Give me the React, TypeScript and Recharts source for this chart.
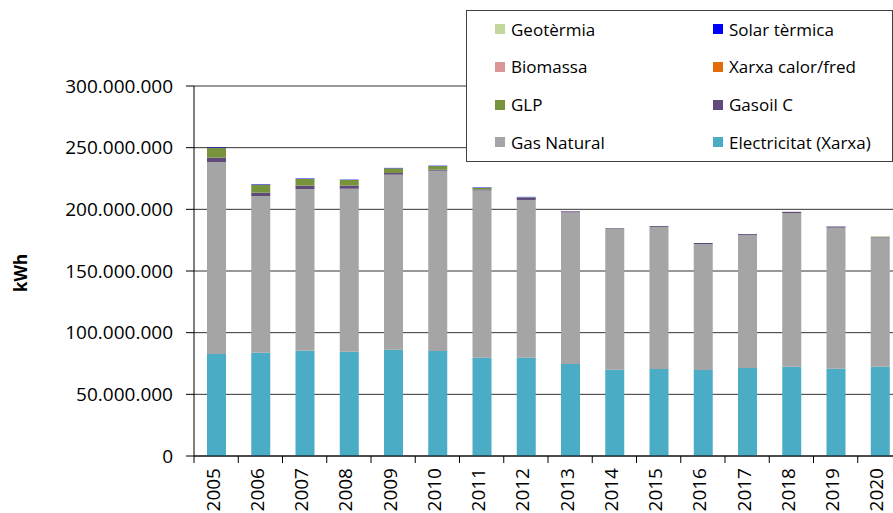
import React from "react";
import { BarChart, Bar, XAxis, YAxis, CartesianGrid } from "recharts";

// values in millions of kWh
const years = ["2005", "2006", "2007", "2008", "2009", "2010", "2011", "2012", "2013", "2014", "2015", "2016", "2017", "2018", "2019", "2020"];
const electricitat = [82.7, 83.8, 85.4, 84.6, 86.2, 85.1, 79.7, 79.7, 74.6, 70.0, 70.5, 69.7, 71.4, 72.4, 70.8, 72.4];
const gasNatural = [155.7, 127.0, 131.1, 132.1, 141.9, 146.2, 135.7, 127.9, 123.0, 114.3, 115.2, 102.2, 107.6, 124.6, 114.4, 104.9];
const gasoilC = [3.5, 2.7, 2.7, 2.5, 1.4, 0.8, 0.8, 1.8, 0.8, 0.5, 0.7, 0.8, 0.9, 1.0, 0.9, 0.4];
const glp = [7.8, 6.5, 5.4, 4.6, 3.8, 3.0, 1.4, 0.4, 0, 0, 0, 0, 0, 0, 0, 0];
const xarxaCalorFred = [0, 0, 0, 0, 0, 0, 0, 0, 0, 0, 0, 0, 0, 0, 0, 0];
const biomassa = [0, 0, 0, 0, 0, 0, 0, 0, 0, 0, 0, 0, 0, 0, 0, 0];
const solarTermica = [0.4, 0.4, 0.4, 0.3, 0.3, 0.3, 0.3, 0.3, 0, 0, 0, 0, 0, 0, 0, 0];
const geotermia = [0, 0, 0, 0, 0, 0, 0, 0, 0, 0, 0, 0, 0, 0, 0, 0.6];
const yTicks = [0, 50, 100, 150, 200, 250, 300];

// stack order, bottom to top
const series = [
  { key: "electricitat", name: "Electricitat (Xarxa)", color: "#4BACC6", values: electricitat },
  { key: "gasNatural", name: "Gas Natural", color: "#A5A5A5", values: gasNatural },
  { key: "gasoilC", name: "Gasoil C", color: "#604A7B", values: gasoilC },
  { key: "glp", name: "GLP", color: "#77933C", values: glp },
  { key: "xarxa", name: "Xarxa calor/fred", color: "#E36C09", values: xarxaCalorFred },
  { key: "biomassa", name: "Biomassa", color: "#D99694", values: biomassa },
  { key: "solar", name: "Solar tèrmica", color: "#0000FF", values: solarTermica },
  { key: "geotermia", name: "Geotèrmia", color: "#C3D69B", values: geotermia },
];

// legend grid as in the original: [left column, right column] per row
const legendRows = [
  ["geotermia", "solar"],
  ["biomassa", "xarxa"],
  ["glp", "gasoilC"],
  ["gasNatural", "electricitat"],
];

const data = years.map((year, i) => {
  const row: Record<string, any> = { year };
  series.forEach((s) => (row[s.key] = s.values[i]));
  return row;
});

const CHART_W = 902;
const CHART_H = 513;
const Y_AXIS_W = 194;
const BAND = (CHART_W - Y_AXIS_W) / years.length;

const fmt = (v: number) => String(v * 1000000).replace(/\B(?=(\d{3})+(?!\d))/g, ".");

const YearTick = (props: any) => {
  const { x, y, payload } = props;
  return (
    <g>
      <line x1={x - BAND / 2} y1={y} x2={x - BAND / 2} y2={y + 7} stroke="#000" />
      <text
        transform={`translate(${x + 3.5},${y + 12}) rotate(-90)`}
        textAnchor="end"
        fontSize={19}
        fill="#000"
      >
        {payload.value}
      </text>
    </g>
  );
};

const Legenda = () => (
  <div
    style={{
      position: "absolute",
      left: 466,
      top: 10,
      width: 425,
      height: 150,
      background: "#fff",
      border: "1px solid #404040",
      fontSize: 17,
      color: "#000",
    }}
  >
    {legendRows.map((row, r) =>
      row.map((key, c) => {
        const s = series.find((d) => d.key === key)!;
        return (
          <div
            key={key}
            style={{
              position: "absolute",
              left: c === 0 ? 28 : 246,
              top: 18 + r * 37.8 - 12,
              height: 24,
              display: "flex",
              alignItems: "center",
              whiteSpace: "nowrap",
            }}
          >
            <span style={{ width: 10, height: 10, background: s.color, marginRight: 6, display: "inline-block" }} />
            <span>{s.name}</span>
          </div>
        );
      })
    )}
  </div>
);

export default function App() {
  return (
    <div
      style={{
        position: "absolute",
        left: 0,
        top: 0,
        width: 893,
        height: 513,
        overflow: "hidden",
        background: "#fff",
        fontFamily: "'Open Sans', sans-serif",
      }}
    >
      <BarChart
        width={CHART_W}
        height={CHART_H}
        data={data}
        margin={{ top: 86, right: 0, left: 0, bottom: 0 }}
        barSize={19}
      >
        <CartesianGrid vertical={false} stroke="#333" />
        <XAxis
          dataKey="year"
          height={57}
          interval={0}
          tickLine={false}
          tickSize={0}
          tickMargin={0}
          axisLine={{ stroke: "#000" }}
          tick={<YearTick />}
        />
        <YAxis
          width={Y_AXIS_W}
          domain={[0, 300]}
          ticks={yTicks}
          interval={0}
          tickFormatter={fmt}
          tickSize={8}
          tickMargin={13}
          axisLine={{ stroke: "#000" }}
          tickLine={{ stroke: "#000" }}
          tick={{ fontSize: 19, fill: "#000" }}
          label={{
            content: () => (
              <text
                x={20}
                y={273}
                transform="rotate(-90 20 273)"
                textAnchor="middle"
                dominantBaseline="central"
                fontSize={17}
                fontWeight="bold"
                fill="#000"
              >
                kWh
              </text>
            ),
          }}
        />
        {series.map((s) => (
          <Bar key={s.key} dataKey={s.key} name={s.name} stackId="a" fill={s.color} isAnimationActive={false} />
        ))}
      </BarChart>
      <Legenda />
    </div>
  );
}
